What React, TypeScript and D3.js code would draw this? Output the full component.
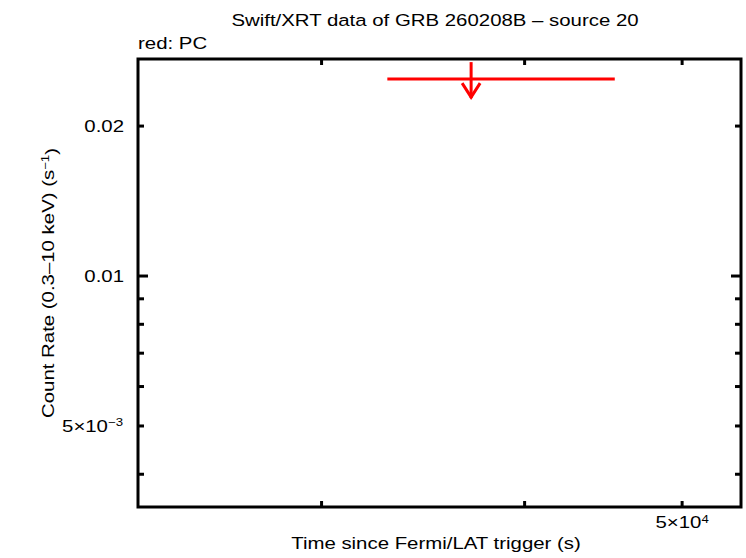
import React from "react";
import * as d3 from "d3";

// upper limit from the PC data (time in s, rate in counts/s)
const ulTime = [37080];
const ulTimeLo = [32930];
const ulTimeHi = [45450];
const ulRate = [0.02485];

const xDomain = [23130, 54350];
const yDomain = [0.003438, 0.02727];

const xMinorTicks = [30000, 40000, 50000];
const yMajorTicks = [0.01];
const yMinorTicks = [0.02, 0.009, 0.008, 0.007, 0.006, 0.005, 0.004];

const title = "Swift/XRT data of GRB 260208B \u2013 source 20";
const font = "'Liberation Sans', Arial, sans-serif";

const W = 746;
const H = 558;
const margin = { top: 59, right: 5, bottom: 51, left: 138 };

// the original's font is a bit wider than Liberation Sans
const stretch = 1.2;

function Label(props: {
  x: number;
  y: number;
  rotate?: number;
  anchor?: string;
  children: React.ReactNode;
}) {
  const { x, y, rotate = 0, anchor = "start", children } = props;
  return (
    <text
      transform={`translate(${x},${y}) rotate(${rotate}) scale(${stretch},1)`}
      fontSize={17}
      textAnchor={anchor}
    >
      {children}
    </text>
  );
}

export default function App() {
  const width = W - margin.left - margin.right;
  const height = H - margin.top - margin.bottom;

  const x = d3.scaleLog().domain(xDomain).range([0, width]);
  const y = d3.scaleLog().domain(yDomain).range([height, 0]);

  const majorLen = 10;
  const minorLen = 6;
  const red = "#ff0000";

  return (
    <svg
      width={W}
      height={H}
      style={{ position: "absolute", left: 0, top: 0, background: "#fff" }}
      fontFamily={font}
    >
      <Label x={435} y={26} anchor="middle">
        {title}
      </Label>
      <Label x={138} y={49}>red: PC</Label>

      <g transform={`translate(${margin.left},${margin.top})`}>
        {/* ticks, drawn on all four sides */}
        {xMinorTicks.map((t) => (
          <g key={"x" + t} stroke="#000" strokeWidth={3}>
            <line x1={x(t)} x2={x(t)} y1={height} y2={height - minorLen} />
            <line x1={x(t)} x2={x(t)} y1={0} y2={minorLen} />
          </g>
        ))}
        {yMajorTicks.map((t) => (
          <g key={"ym" + t} stroke="#000" strokeWidth={3}>
            <line x1={0} x2={majorLen} y1={y(t)} y2={y(t)} />
            <line x1={width} x2={width - majorLen} y1={y(t)} y2={y(t)} />
          </g>
        ))}
        {yMinorTicks.map((t) => (
          <g key={"yn" + t} stroke="#000" strokeWidth={3}>
            <line x1={0} x2={minorLen} y1={y(t)} y2={y(t)} />
            <line x1={width} x2={width - minorLen} y1={y(t)} y2={y(t)} />
          </g>
        ))}

        <rect
          x={0}
          y={0}
          width={width}
          height={height}
          fill="none"
          stroke="#000"
          strokeWidth={3}
        />

        {/* tick labels */}
        <Label x={-14} y={y(0.02) + 6} anchor="end">0.02</Label>
        <Label x={-14} y={y(0.01) + 6} anchor="end">0.01</Label>
        <Label x={-15} y={y(0.005) + 6} anchor="end">
          5×10
          <tspan dy="-0.5em" fontSize={11}>−3</tspan>
        </Label>
        <Label x={x(50000)} y={height + 21} anchor="middle">
          5×10
          <tspan dy="-0.5em" fontSize={11}>4</tspan>
        </Label>

        {/* upper limit */}
        {ulTime.map((t, i) => {
          const cx = x(t);
          const cy = y(ulRate[i]);
          return (
            <g key={i} stroke={red} strokeWidth={3} fill="none">
              <line x1={x(ulTimeLo[i])} x2={x(ulTimeHi[i])} y1={cy} y2={cy} />
              <line x1={cx} x2={cx} y1={cy - 17} y2={cy + 19} />
              <polyline
                points={`${cx - 9},${cy + 4} ${cx},${cy + 18} ${cx + 9},${cy + 4}`}
              />
            </g>
          );
        })}
      </g>

      <Label x={54} y={margin.top + height / 2} rotate={-90} anchor="middle">
        Count Rate (0.3–10 keV) (s
        <tspan dy="-0.5em" fontSize={11}>−1</tspan>
        <tspan dy="0.5em">)</tspan>
      </Label>
      <Label x={436} y={549} anchor="middle">
        Time since Fermi/LAT trigger (s)
      </Label>
    </svg>
  );
}
